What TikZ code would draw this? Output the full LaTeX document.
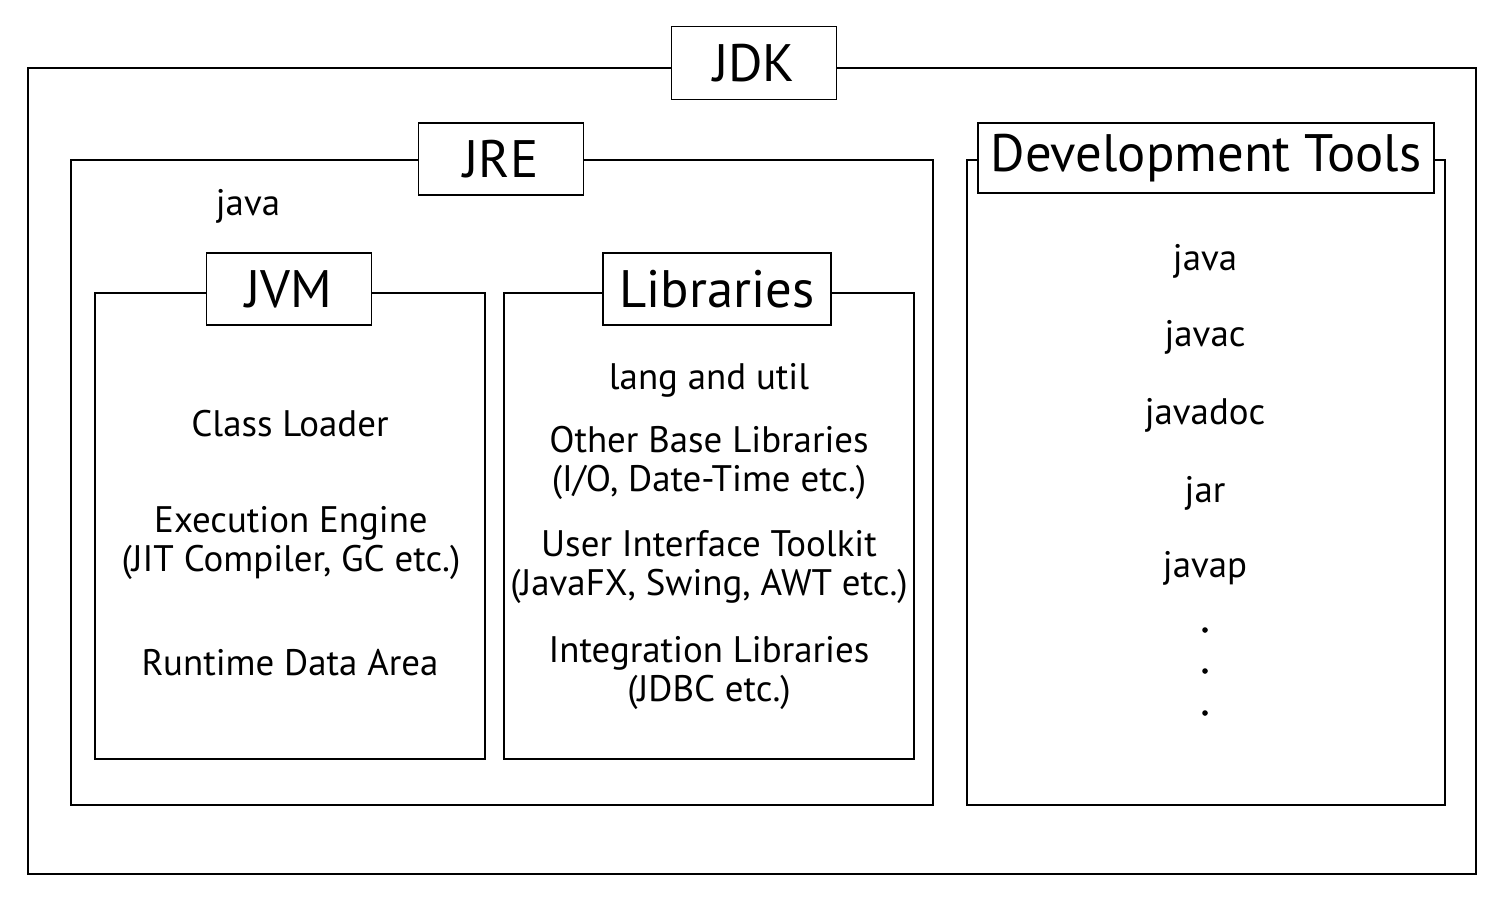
\documentclass[tikz,border=0pt]{standalone}
\usepackage{fontspec}
\setmainfont{PT Sans}
\usepackage{tikz}
\usetikzlibrary{positioning}

\tikzset{
  frame/.style={draw, line width=1pt, rectangle, inner sep=0pt},
  titlebox/.style={draw, line width=1pt, fill=white, rectangle, inner sep=0pt,
    font=\fontsize{30}{34}\selectfont},
  item/.style={align=center, font=\fontsize{21}{22}\selectfont},
}

\begin{document}
\begin{tikzpicture}[x=0.02cm, y=-0.02cm]
    \useasboundingbox (0,0) rectangle (1496,896);

    % outer frames
    \node[frame, minimum width=28.96cm, minimum height=16.12cm] (jdk) at (752,471) {};
    \node[frame, minimum width=17.24cm, minimum height=12.9cm] (jre) at (502,482.5) {};
    \node[frame, minimum width=7.8cm, minimum height=9.32cm] (jvm) at (290,526) {};
    \node[frame, minimum width=8.2cm, minimum height=9.32cm] (lib) at (709,526) {};
    \node[frame, minimum width=9.56cm, minimum height=12.9cm] (dev) at (1206,482.5) {};

    % titles
    \node[titlebox, minimum width=3.3cm, minimum height=1.46cm] (jdktitle) at (754,63) {JDK};
    \node[titlebox, minimum width=3.3cm, minimum height=1.44cm] (jretitle) at (501,159) {JRE};
    \node[titlebox, minimum width=3.3cm, minimum height=1.44cm] (jvmtitle) at (289,289) {JVM};
    \node[titlebox, minimum width=4.56cm, minimum height=1.44cm] (libtitle) at (717,289) {Libraries};
    \node[titlebox, minimum width=9.12cm, minimum height=1.4cm] (devtitle) at (1206,158) {Development Tools};

    % jre
    \node[item] (jrejava) at (248,206) {java};

    % jvm
    \node[item] (loader) at (290,424) {Class Loader};
    \node[item] (engine) at (291,543) {Execution Engine\\(JIT Compiler, GC etc.)};
    \node[item] (runtime) at (290,663) {Runtime Data Area};

    % libraries
    \node[item] (langutil) at (709,380) {lang and util};
    \node[item] (baselib) at (709,463) {Other Base Libraries\\(I/O, Date-Time etc.)};
    \node[item] (uitool) at (709,567) {User Interface Toolkit\\(JavaFX, Swing, AWT etc.)};
    \node[item] (intlib) at (709,673) {Integration Libraries\\(JDBC etc.)};

    % development tools
    \node[item] (tjava) at (1205,261) {java};
    \node[item] (tjavac) at (1205,337) {javac};
    \node[item] (tjavadoc) at (1205,415) {javadoc};
    \node[item] (tjar) at (1205,493) {jar};
    \node[item] (tjavap) at (1205,568) {javap};
    \foreach \y [count=\i] in {630,671,713}
      \fill (1205,\y) circle (1.6pt);
  \end{tikzpicture}
\end{document}
